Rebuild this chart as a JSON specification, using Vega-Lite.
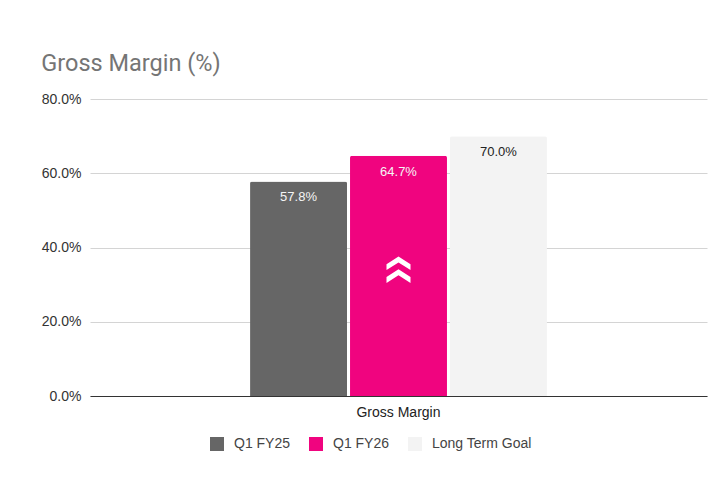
{
  "$schema": "https://vega.github.io/schema/vega-lite/v6.json",
  "width": 617,
  "height": 297,
  "padding": {"left": 41, "top": 51, "right": 17, "bottom": 10},
  "background": "white",
  "view": {"stroke": null},
  "title": {"text": "Gross Margin (%)", "anchor": "start", "frame": "bounds", "font": "Roboto", "fontSize": 23.5, "fontWeight": "normal", "color": "#757575", "offset": 17},
  "data": {"values": [
    {"metric": "Gross Margin", "series": "Q1 FY25", "value": 0.578},
    {"metric": "Gross Margin", "series": "Q1 FY26", "value": 0.647},
    {"metric": "Gross Margin", "series": "Long Term Goal", "value": 0.70}
  ]},
  "encoding": {
    "x": {"field": "metric", "type": "nominal",
      "scale": {"paddingInner": 0, "paddingOuter": 0.539},
      "axis": {"title": null, "labelAngle": 0, "ticks": false, "domainColor": "#333333", "labelFont": "Liberation Sans", "labelFontSize": 14, "labelColor": "#222222", "labelPadding": 9}},
    "xOffset": {"field": "series", "type": "nominal", "sort": ["Q1 FY25", "Q1 FY26", "Long Term Goal"], "scale": {"paddingInner": 0.03, "paddingOuter": 0}},
    "y": {"field": "value", "type": "quantitative", "scale": {"domain": [0, 0.8]},
      "axis": {"title": null, "format": ".1%", "values": [0, 0.2, 0.4, 0.6, 0.8], "domain": false, "ticks": false, "gridColor": "#d4d4d4", "labelPadding": 9, "labelFont": "Liberation Sans", "labelFontSize": 14, "labelColor": "#333333"}}
  },
  "layer": [
    {
      "mark": {"type": "bar", "cornerRadiusTopLeft": 2, "cornerRadiusTopRight": 2},
      "encoding": {
        "color": {"field": "series", "type": "nominal",
          "scale": {"domain": ["Q1 FY25", "Q1 FY26", "Long Term Goal"], "range": ["#666666", "#f0047f", "#f3f3f3"]},
          "legend": {"orient": "none", "legendX": 120, "legendY": 338, "direction": "horizontal", "title": null, "symbolType": "square", "symbolSize": 196, "symbolStrokeWidth": 0, "symbolOpacity": 1, "labelFont": "Liberation Sans", "labelFontSize": 14, "labelColor": "#444444", "columnPadding": 18, "labelOffset": 10}}
      }
    },
    {
      "mark": {"type": "text", "dy": 16, "baseline": "middle", "font": "Liberation Sans", "fontSize": 13},
      "encoding": {
        "text": {"field": "value", "type": "quantitative", "format": ".1%"},
        "color": {"condition": {"test": "datum.series === 'Long Term Goal'", "value": "#222222"}, "value": "#f5f5f5"}
      }
    },
    {
      "transform": [{"filter": "datum.series === 'Q1 FY26'"}],
      "mark": {"type": "point", "shape": "M-1,-0.46L0,-1.1L1,-0.46L1,0.01L0,-0.6L-1,0.01ZM-1,0.6L0,-0.04L1,0.6L1,1.1L0,0.46L-1,1.1Z", "filled": true, "color": "#ffffff", "opacity": 1, "size": 576},
      "encoding": {"y": {"datum": 0.34, "type": "quantitative"}}
    }
  ]
}
